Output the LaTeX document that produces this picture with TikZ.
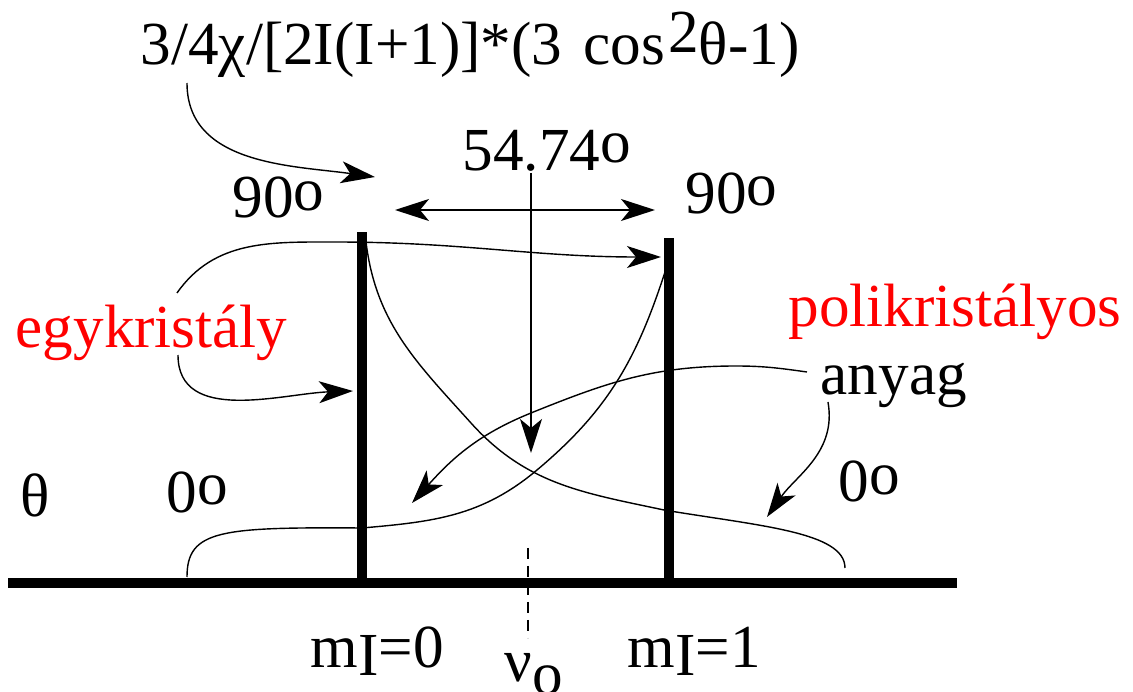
\documentclass[tikz,border=0pt]{standalone}
\usepackage{fontspec}
\setmainfont{Liberation Serif}
\usetikzlibrary{arrows.meta, positioning, calc}

\newcommand{\fok}{\raisebox{0.12em}{o}}

\begin{document}
\begin{tikzpicture}[
  lbl/.style={anchor=base west, inner sep=0pt, font=\fontsize{17.4pt}{20pt}\selectfont},
  redlbl/.style={lbl, text=red},
  peak/.style={line width=1mm},
  curve/.style={line width=0.4pt},
  tip/.style={-{Stealth[length=3.4mm, width=2.2mm, inset=0.9mm]}},
  arr/.style={tip, line width=0.6pt},
  darr/.style={{Stealth[length=3.4mm, width=2.2mm, inset=0.9mm]}-{Stealth[length=3.4mm, width=2.2mm, inset=0.9mm]}, line width=0.6pt},
  marker/.style={line width=0.6pt, dash pattern=on 1.1mm off 0.7mm}
]
  \useasboundingbox (0,0) rectangle (11.33,6.92);

  % ----- Texts -----
  \node[lbl] (formula) at (1.40, 6.27) {3/4χ/[2I(I+1)]*(3\hspace{0.1em} cos\hspace{0.05em}\raisebox{0.2em}{2}θ-1)};
  \node[lbl] (magic)   at (4.62, 5.22) {54.74\fok};
  \node[lbl] (ninetyL) at (2.32, 4.74) {90\fok};
  \node[lbl] (ninetyR) at (6.85, 4.79) {90\fok};
  \node[redlbl] (single) at (0.15, 3.44) {egykristály};
  \node[redlbl] (poly)   at (7.88, 3.65) {polikristályos};
  \node[lbl] (anyag)   at (8.20, 2.97) {anyag};
  \node[lbl] (theta)   at (0.20, 1.76) {θ};
  \node[lbl] (zeroL)   at (1.66, 1.80) {0\fok};
  \node[lbl] (zeroR)   at (8.38, 1.90) {0\fok};
  \node[lbl] (mzero)   at (3.10, 0.24) {m\raisebox{-0.13em}{I}=0};
  \node[lbl] (mone)    at (6.27, 0.24) {m\raisebox{-0.13em}{I}=1};
  \node[lbl] (nuo)     at (5.04, 0.10) {ν\raisebox{-0.2em}{o}};

  % ----- Axis and lines -----
  \coordinate (ax0) at (0.08, 1.09);
  \coordinate (ax1) at (9.57, 1.09);
  \coordinate (p0)    at (3.62, 1.09);
  \coordinate (p0top) at (3.62, 4.60);
  \coordinate (p1)    at (6.69, 1.09);
  \coordinate (p1top) at (6.69, 4.54);
  \draw[peak] (ax0) -- (ax1);
  \draw[peak] (p0) -- (p0top);
  \draw[peak] (p1) -- (p1top);

  \coordinate (nu0) at (5.28, 1.44);
  \coordinate (nu1) at (5.28, 0.54);
  \draw[marker] (nu0) -- (nu1);

  % ----- Shift arrows -----
  \coordinate (sepL) at (3.95, 4.82);
  \coordinate (sepR) at (6.55, 4.82);
  \draw[darr] (sepL) -- (sepR);
  \coordinate (magTop) at (5.31, 5.19);
  \coordinate (magTip) at (5.31, 2.39);
  \draw[arr] (magTop) -- (magTip);

  % ----- Pointers from the labels -----
  \coordinate (fTail) at (1.87, 6.09);
  \coordinate (fTip)  at (3.75, 5.15);
  \draw[curve, tip] (fTail) to[out=-90, in=172] (fTip);

  \coordinate (sTail) at (1.78, 3.37);
  \coordinate (sTip)  at (3.53, 3.01);
  \draw[curve, tip] (sTail) to[out=-90, in=182] (sTip);

  \coordinate (aTail) at (8.28, 2.90);
  \coordinate (aTip)  at (7.67, 1.75);
  \draw[curve, tip] (aTail) to[out=-80, in=55] (aTip);

  % ----- Orientation curves -----
  \coordinate (c0) at (1.77, 3.99);
  \coordinate (c1) at (6.61, 4.35);
  \draw[curve, tip] (c0) to[out=55, in=180] (3.35, 4.50) to[out=0, in=180] (c1);

  \coordinate (d0) at (3.66, 4.50);
  \coordinate (d1) at (8.45, 1.24);
  \draw[curve] (d0) to[out=-83, in=132] (4.71, 2.69) to[out=-48, in=168] (6.64, 1.82)
    .. controls (7.6, 1.66) and (8.45, 1.60) .. (d1);

  \coordinate (e0) at (6.65, 4.20);
  \coordinate (e1) at (1.87, 1.15);
  \draw[curve] (e0) to[out=-108, in=40] (5.37, 2.22) to[out=220, in=5] (3.62, 1.64)
    .. controls (2.2, 1.65) and (1.87, 1.62) .. (e1);

  \coordinate (g0) at (8.07, 3.20);
  \coordinate (g1) at (4.12, 1.89);
  \draw[curve, tip] (g0) to[out=172, in=0] (7.36, 3.26) to[out=180, in=22] (5.31, 2.79)
    to[out=202, in=48] (g1);
\end{tikzpicture}
\end{document}
